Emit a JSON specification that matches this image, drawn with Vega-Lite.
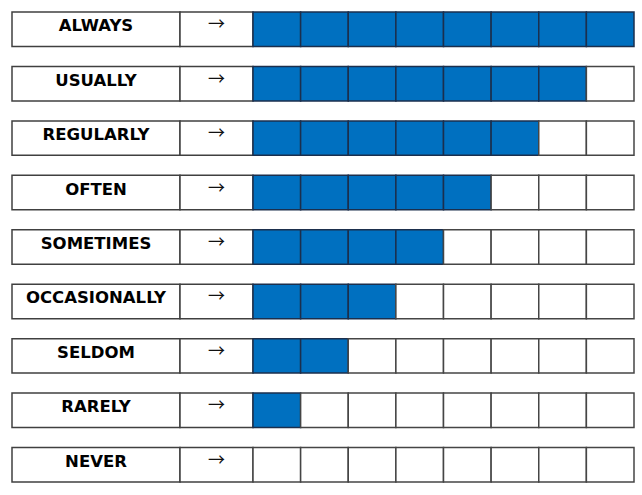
{
  "$schema": "https://vega.github.io/schema/vega-lite/v6.json",
  "background": "white",
  "padding": {"left": 11, "top": 11, "right": 8, "bottom": 12},
  "bounds": "flush",
  "spacing": 0,
  "config": {"view": {"stroke": null}, "concat": {"spacing": 0}},
  "datasets": {
    "levels": [
      {"level": "ALWAYS", "arrow": "→"},
      {"level": "USUALLY", "arrow": "→"},
      {"level": "REGULARLY", "arrow": "→"},
      {"level": "OFTEN", "arrow": "→"},
      {"level": "SOMETIMES", "arrow": "→"},
      {"level": "OCCASIONALLY", "arrow": "→"},
      {"level": "SELDOM", "arrow": "→"},
      {"level": "RARELY", "arrow": "→"},
      {"level": "NEVER", "arrow": "→"}
    ],
    "cells": [
      {"level":"ALWAYS","cell":1,"filled":"yes"},{"level":"ALWAYS","cell":2,"filled":"yes"},{"level":"ALWAYS","cell":3,"filled":"yes"},{"level":"ALWAYS","cell":4,"filled":"yes"},{"level":"ALWAYS","cell":5,"filled":"yes"},{"level":"ALWAYS","cell":6,"filled":"yes"},{"level":"ALWAYS","cell":7,"filled":"yes"},{"level":"ALWAYS","cell":8,"filled":"yes"},
      {"level":"USUALLY","cell":1,"filled":"yes"},{"level":"USUALLY","cell":2,"filled":"yes"},{"level":"USUALLY","cell":3,"filled":"yes"},{"level":"USUALLY","cell":4,"filled":"yes"},{"level":"USUALLY","cell":5,"filled":"yes"},{"level":"USUALLY","cell":6,"filled":"yes"},{"level":"USUALLY","cell":7,"filled":"yes"},{"level":"USUALLY","cell":8,"filled":"no"},
      {"level":"REGULARLY","cell":1,"filled":"yes"},{"level":"REGULARLY","cell":2,"filled":"yes"},{"level":"REGULARLY","cell":3,"filled":"yes"},{"level":"REGULARLY","cell":4,"filled":"yes"},{"level":"REGULARLY","cell":5,"filled":"yes"},{"level":"REGULARLY","cell":6,"filled":"yes"},{"level":"REGULARLY","cell":7,"filled":"no"},{"level":"REGULARLY","cell":8,"filled":"no"},
      {"level":"OFTEN","cell":1,"filled":"yes"},{"level":"OFTEN","cell":2,"filled":"yes"},{"level":"OFTEN","cell":3,"filled":"yes"},{"level":"OFTEN","cell":4,"filled":"yes"},{"level":"OFTEN","cell":5,"filled":"yes"},{"level":"OFTEN","cell":6,"filled":"no"},{"level":"OFTEN","cell":7,"filled":"no"},{"level":"OFTEN","cell":8,"filled":"no"},
      {"level":"SOMETIMES","cell":1,"filled":"yes"},{"level":"SOMETIMES","cell":2,"filled":"yes"},{"level":"SOMETIMES","cell":3,"filled":"yes"},{"level":"SOMETIMES","cell":4,"filled":"yes"},{"level":"SOMETIMES","cell":5,"filled":"no"},{"level":"SOMETIMES","cell":6,"filled":"no"},{"level":"SOMETIMES","cell":7,"filled":"no"},{"level":"SOMETIMES","cell":8,"filled":"no"},
      {"level":"OCCASIONALLY","cell":1,"filled":"yes"},{"level":"OCCASIONALLY","cell":2,"filled":"yes"},{"level":"OCCASIONALLY","cell":3,"filled":"yes"},{"level":"OCCASIONALLY","cell":4,"filled":"no"},{"level":"OCCASIONALLY","cell":5,"filled":"no"},{"level":"OCCASIONALLY","cell":6,"filled":"no"},{"level":"OCCASIONALLY","cell":7,"filled":"no"},{"level":"OCCASIONALLY","cell":8,"filled":"no"},
      {"level":"SELDOM","cell":1,"filled":"yes"},{"level":"SELDOM","cell":2,"filled":"yes"},{"level":"SELDOM","cell":3,"filled":"no"},{"level":"SELDOM","cell":4,"filled":"no"},{"level":"SELDOM","cell":5,"filled":"no"},{"level":"SELDOM","cell":6,"filled":"no"},{"level":"SELDOM","cell":7,"filled":"no"},{"level":"SELDOM","cell":8,"filled":"no"},
      {"level":"RARELY","cell":1,"filled":"yes"},{"level":"RARELY","cell":2,"filled":"no"},{"level":"RARELY","cell":3,"filled":"no"},{"level":"RARELY","cell":4,"filled":"no"},{"level":"RARELY","cell":5,"filled":"no"},{"level":"RARELY","cell":6,"filled":"no"},{"level":"RARELY","cell":7,"filled":"no"},{"level":"RARELY","cell":8,"filled":"no"},
      {"level":"NEVER","cell":1,"filled":"no"},{"level":"NEVER","cell":2,"filled":"no"},{"level":"NEVER","cell":3,"filled":"no"},{"level":"NEVER","cell":4,"filled":"no"},{"level":"NEVER","cell":5,"filled":"no"},{"level":"NEVER","cell":6,"filled":"no"},{"level":"NEVER","cell":7,"filled":"no"},{"level":"NEVER","cell":8,"filled":"no"}
    ]
  },
  "hconcat": [
    {
      "width": 168,
      "height": 470,
      "data": {"name": "levels"},
      "encoding": {
        "y": {"field": "level", "type": "nominal", "sort": null, "axis": null,
              "scale": {"paddingInner": 0.367, "paddingOuter": 0}}
      },
      "layer": [
        {"mark": {"type": "rect", "fill": "white", "stroke": "#404040", "strokeWidth": 1.5}},
        {"mark": {"type": "text", "font": "DejaVu Sans", "fontWeight": "bold", "fontSize": 16.5, "baseline": "alphabetic", "dy": 2, "color": "#000000"},
         "encoding": {"text": {"field": "level"}}}
      ]
    },
    {
      "width": 73,
      "height": 470,
      "data": {"name": "levels"},
      "encoding": {
        "y": {"field": "level", "type": "nominal", "sort": null, "axis": null,
              "scale": {"paddingInner": 0.367, "paddingOuter": 0}}
      },
      "layer": [
        {"mark": {"type": "rect", "fill": "white", "stroke": "#404040", "strokeWidth": 1.5}},
        {"mark": {"type": "text", "font": "Noto Sans CJK JP", "fontSize": 17, "baseline": "middle", "dy": -4, "color": "#111111"},
         "encoding": {"text": {"field": "arrow"}}}
      ]
    },
    {
      "width": 381,
      "height": 470,
      "data": {"name": "cells"},
      "mark": {"type": "rect", "strokeWidth": 1.5},
      "encoding": {
        "x": {"field": "cell", "type": "ordinal", "axis": null, "scale": {"paddingInner": 0, "paddingOuter": 0}},
        "y": {"field": "level", "type": "nominal", "axis": null,
              "sort": ["ALWAYS","USUALLY","REGULARLY","OFTEN","SOMETIMES","OCCASIONALLY","SELDOM","RARELY","NEVER"],
              "scale": {"paddingInner": 0.367, "paddingOuter": 0}},
        "fill": {"field": "filled", "type": "nominal", "legend": null,
                 "scale": {"domain": ["yes", "no"], "range": ["#0070C0", "#FFFFFF"]}},
        "stroke": {"field": "filled", "type": "nominal", "legend": null,
                   "scale": {"domain": ["yes", "no"], "range": ["#1B2F4D", "#454545"]}}
      }
    }
  ]
}
